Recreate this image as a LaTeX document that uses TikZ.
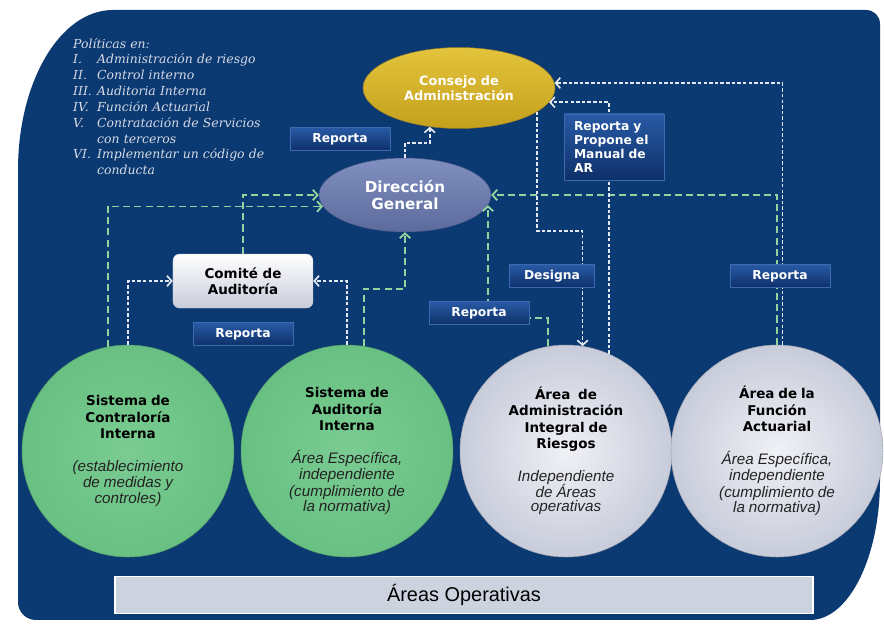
\documentclass[tikz,border=0pt]{standalone}
\usepackage{fontspec}
\setmainfont{Liberation Sans}
\newfontfamily\boldface{DejaVu Sans}
\newfontfamily\listface{DejaVu Serif}
\usetikzlibrary{shapes.geometric, arrows.meta}
\definecolor{panelblue}{RGB}{11,57,113}
\definecolor{dashgreen}{RGB}{150,210,160}
\definecolor{dashwhite}{RGB}{228,232,240}
\definecolor{goldtop}{RGB}{228,196,60}
\definecolor{goldbot}{RGB}{196,160,28}
\definecolor{goldline}{RGB}{150,125,40}
\definecolor{slatetop}{RGB}{130,144,192}
\definecolor{slatebot}{RGB}{92,106,156}
\definecolor{slateline}{RGB}{70,85,135}
\definecolor{tagtop}{RGB}{40,90,165}
\definecolor{tagbot}{RGB}{14,48,105}
\definecolor{tagline}{RGB}{60,105,175}
\definecolor{greenin}{RGB}{122,204,146}
\definecolor{greenout}{RGB}{104,192,130}
\definecolor{greyin}{RGB}{240,241,246}
\definecolor{greyout}{RGB}{200,204,218}
\definecolor{barfill}{RGB}{205,210,223}
\definecolor{listgrey}{RGB}{214,219,230}
\definecolor{notegrey}{RGB}{35,35,35}
\newcommand{\headtext}{\boldface\bfseries\fontsize{11.5pt}{14pt}\selectfont}
\newcommand{\notetext}{\rmfamily\mdseries\itshape\fontsize{13pt}{14pt}\selectfont\color{notegrey}}
\tikzstyle{council} = [ellipse, minimum width=5.76cm, minimum height=2.43cm, text centered, align=center, draw=goldline, top color=goldtop, bottom color=goldbot, text=white, font=\boldface\bfseries\fontsize{11pt}{13pt}\selectfont]
\tikzstyle{director} = [ellipse, minimum width=5.16cm, minimum height=2.22cm, text centered, align=center, draw=slateline, top color=slatetop, bottom color=slatebot, text=white, font=\boldface\bfseries\fontsize{13pt}{14pt}\selectfont]
\tikzstyle{committee} = [rectangle, rounded corners=0.2cm, minimum width=4.2cm, minimum height=1.62cm, text centered, align=center, draw=greyout, top color=white, bottom color=greyout, font=\boldface\bfseries\fontsize{11.5pt}{14pt}\selectfont]
\tikzstyle{greenball} = [circle, minimum size=6.36cm, inner sep=0pt, text width=4.6cm, align=center, draw=greenout!80!black, inner color=greenin, outer color=greenout, text=black]
\tikzstyle{greyball} = [circle, minimum size=6.36cm, inner sep=0pt, text width=4.6cm, align=center, draw=greyout!80!black, inner color=greyin, outer color=greyout, text=black]
\tikzstyle{tag} = [rectangle, minimum width=3cm, minimum height=0.69cm, text centered, draw=tagline, top color=tagtop, bottom color=tagbot, text=white, font=\boldface\bfseries\fontsize{10.5pt}{12pt}\selectfont]
\tikzstyle{basebar} = [rectangle, minimum width=20.94cm, minimum height=1.11cm, text centered, draw=white, line width=1.5pt, fill=barfill, font=\fontsize{17pt}{20pt}\selectfont]
\tikzstyle{policy} = [anchor=north west, inner sep=0pt, text width=7cm, align=left, text=listgrey, font=\listface\itshape\fontsize{10.6pt}{13.5pt}\selectfont]
\tikzstyle{greenarrow} = [line width=1.6pt, draw=dashgreen, dash pattern=on 6pt off 3.5pt, ->, >={Straight Barb[length=4pt,width=9pt]}]
\tikzstyle{whitearrow} = [line width=1.4pt, draw=dashwhite, dash pattern=on 3pt off 1.8pt, ->, >={Straight Barb[length=4pt,width=9pt]}]

\begin{document}
\begin{tikzpicture}[x=0.03cm, y=-0.03cm, node distance=2cm]
\useasboundingbox (0,0) rectangle (884,628);
\fill[white] (0,0) rectangle (884,628);
\fill[panelblue] (18,170) .. controls (18,82) and (60,10) .. (113,10) -- (866,10) .. controls (874,10) and (880,16) .. (880,24) -- (880,480) .. controls (880,557) and (849,620) .. (810,620) -- (36,620) .. controls (26,620) and (18,612) .. (18,602) -- cycle;

\node (politicas) [policy] at (73,38) {Políticas en:\\
\makebox[0.72cm][l]{I.}Administración de riesgo\\
\makebox[0.72cm][l]{II.}Control interno\\
\makebox[0.72cm][l]{III.}Auditoria Interna\\
\makebox[0.72cm][l]{IV.}Función Actuarial\\
\makebox[0.72cm][l]{V.}Contratación de Servicios\\
\hspace*{0.72cm}con terceros\\
\makebox[0.72cm][l]{VI.}Implementar un código de\\
\hspace*{0.72cm}conducta};
\node (consejo) [council] at (459,88) {Consejo de\\Administración};
\node (direccion) [director, below of=consejo, xshift=-1.62cm, yshift=-1.21cm] {Dirección\\General};
\node (comite) [committee, below of=direccion, xshift=-4.86cm, yshift=-0.58cm] {Comité de\\Auditoría};
\node (contraloria) [greenball, below of=comite, xshift=-3.45cm, yshift=-3.10cm] {\headtext Sistema de\\Contraloría\\Interna\\[14pt]\notetext (establecimiento\\de medidas y\\controles)};
\node (auditoria) [greenball, right of=contraloria, xshift=4.57cm] {\headtext Sistema de\\Auditoría\\Interna\\[14pt]\notetext Área Específica,\\independiente\\(cumplimiento de\\la normativa)};
\node (riesgos) [greyball, right of=auditoria, xshift=4.57cm] {\headtext Área~ de\\Administración\\Integral de\\Riesgos\\[14pt]\notetext Independiente\\de Áreas\\operativas};
\node (actuarial) [greyball, right of=riesgos, xshift=4.33cm] {\headtext Área de la\\Función\\Actuarial\\[14pt]\notetext Área Específica,\\independiente\\(cumplimiento de\\la normativa)};

\draw [greenarrow] (contraloria.101) |- (direccion.188);
\draw [greenarrow] (comite.north) |- (direccion.west);
\draw [greenarrow] (auditoria.81) -- ++(0,-57) -| (direccion.south);
\draw [greenarrow] (riesgos.100) -- ++(0,-28) -| (direccion.-7);
\draw [greenarrow] (actuarial.north) |- (direccion.east);
\draw [whitearrow] (contraloria.north) |- (comite.west);
\draw [whitearrow] (auditoria.north) |- (comite.east);
\draw [whitearrow] (direccion.north) -- ++(0,-15) -| (consejo.233);
\draw [whitearrow] (consejo.-17) -- ++(0,119) -| (riesgos.81);
\draw [whitearrow] (riesgos.66) |- (consejo.-9);
\draw [whitearrow] (actuarial.87) |- (consejo.3);

\node (reporta1) [tag, below of=consejo, xshift=-3.57cm, yshift=0.47cm] {Reporta};
\node (reporta2) [tag, below of=comite, yshift=0.41cm] {Reporta};
\node (reporta3) [tag, above of=riesgos, xshift=-2.61cm, yshift=2.14cm] {Reporta};
\node (designa) [tag, minimum width=2.55cm, above of=reporta3, xshift=2.19cm, yshift=-0.89cm] {Designa};
\node (reporta4) [tag, right of=designa, xshift=4.84cm] {Reporta};
\node (manual) [tag, text width=2.4cm, inner xsep=0.25cm, align=left, minimum height=1.98cm, above of=designa, xshift=1.86cm, yshift=1.87cm] {Reporta y\\Propone el\\Manual de\\AR};
\node (operativas) [basebar, below of=auditoria, xshift=3.51cm, yshift=-2.32cm] {Áreas Operativas};

\end{tikzpicture}
\end{document}
